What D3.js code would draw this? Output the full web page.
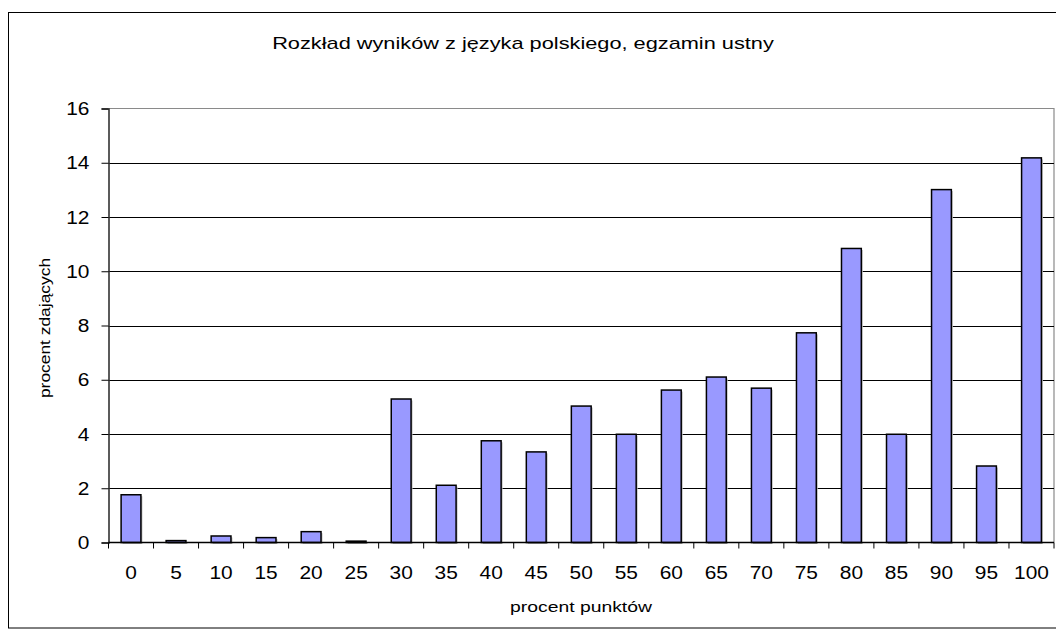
<!DOCTYPE html>
<html><head><meta charset="utf-8">
<script src="https://cdn.jsdelivr.net/npm/d3@7"></script>
<style>body{margin:0;background:#fff;} svg{display:block;font-family:"Liberation Sans",Arial,sans-serif;}</style>
</head><body>
<script>
const categories = ["0","5","10","15","20","25","30","35","40","45","50","55","60","65","70","75","80","85","90","95","100"];
const values = [1.76,0.07,0.24,0.18,0.40,0.05,5.29,2.11,3.75,3.34,5.03,3.99,5.62,6.10,5.69,7.73,10.84,3.99,13.01,2.82,14.18];
const yTicks = [0,2,4,6,8,10,12,14,16];
const title = "Rozkład wyników z języka polskiego, egzamin ustny";
const xTitle = "procent punktów";
const yTitle = "procent zdających";

const W = 1056, H = 635;
const m = {left:108.5, right:1054, top:108.5, bottom:542.5};
const svg = d3.select("body").append("svg").attr("width",W).attr("height",H);

svg.append("rect").attr("x",8.5).attr("y",12.5).attr("width",1060).attr("height",615.5)
  .attr("fill","none").attr("stroke","#000").attr("stroke-width",1);

const x = d3.scaleBand().domain(categories).range([m.left,m.right]).paddingInner(0.56).paddingOuter(0.28);
const y = d3.scaleLinear().domain([0,16]).range([m.bottom,m.top]);

// plot border (gray top/right)
svg.append("path").attr("d",`M${m.left},${m.top}H${m.right}V${m.bottom}`).attr("fill","none").attr("stroke","#8a8a8a").attr("stroke-width",1.2);

// gridlines
svg.append("g").selectAll("line").data(yTicks.filter(d=>d>0 && d<16)).join("line")
  .attr("x1",m.left).attr("x2",m.right).attr("y1",d=>Math.round(y(d))+0.5).attr("y2",d=>Math.round(y(d))+0.5)
  .attr("stroke","#000").attr("stroke-width",1);

// bars
svg.append("g").selectAll("rect.sh").data(values).join("rect")
  .attr("x",(d,i)=>x(categories[i])+1.5).attr("y",d=>y(d)+1.5).attr("width",x.bandwidth()).attr("height",d=>m.bottom-y(d))
  .attr("fill","#bdbdbd");
svg.append("g").selectAll("rect.b").data(values).join("rect")
  .attr("x",(d,i)=>x(categories[i])).attr("y",d=>y(d)).attr("width",x.bandwidth()).attr("height",d=>m.bottom-y(d))
  .attr("fill","#9999FF").attr("stroke","#000").attr("stroke-width",1.5);

// y axis
const yAxis = d3.axisLeft(y).tickValues(yTicks).tickSize(7).tickFormat("");
const gy = svg.append("g").attr("transform",`translate(${m.left},0)`).call(yAxis);
gy.select(".domain").attr("stroke","#333").attr("stroke-width",1.6);
gy.selectAll(".tick line").attr("stroke","#000");
svg.append("g").selectAll("text").data(yTicks).join("text")
  .attr("transform",d=>`translate(89.5,${y(d)}) scale(1.1,1)`).attr("dy","0.35em")
  .attr("text-anchor","end").attr("font-size",19).attr("fill","#000").text(d=>d);

// x axis: ticks at band boundaries
const bounds = d3.range(categories.length+1).map(i=>m.left+i*(m.right-m.left)/categories.length);
const gx = svg.append("g");
gx.append("line").attr("x1",m.left).attr("x2",m.right).attr("y1",m.bottom).attr("y2",m.bottom).attr("stroke","#000").attr("stroke-width",1.5);
gx.selectAll("line.t").data(bounds).join("line").attr("class","t")
  .attr("x1",d=>d).attr("x2",d=>d).attr("y1",m.bottom).attr("y2",m.bottom+6).attr("stroke","#000");
gx.selectAll("text").data(categories).join("text")
  .attr("transform",d=>`translate(${x(d)+x.bandwidth()/2},579) scale(1.1,1)`).attr("text-anchor","middle")
  .attr("font-size",19).attr("fill","#000").text(d=>d);

svg.append("text").attr("transform","translate(523,49) scale(1.28,1)").attr("text-anchor","middle").attr("font-size",17).text(title);
svg.append("text").attr("transform","translate(581,612) scale(1.29,1)").attr("text-anchor","middle").attr("font-size",15).text(xTitle);
svg.append("text").attr("transform",`translate(50,328) rotate(-90) scale(1.16,1)`).attr("text-anchor","middle").attr("font-size",15).text(yTitle);
</script>
</body></html>
